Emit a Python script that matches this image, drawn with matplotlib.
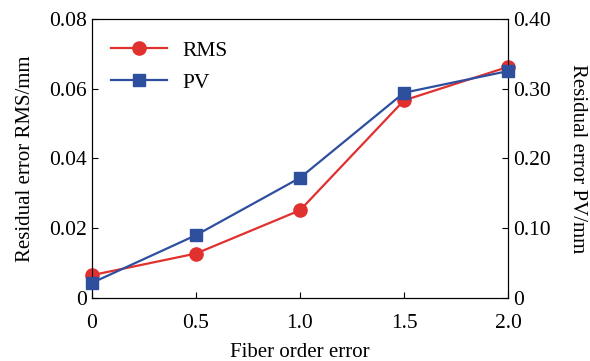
import matplotlib
matplotlib.use("Agg")
import matplotlib.pyplot as plt

plt.rcParams['font.family'] = ['Liberation Serif', 'DejaVu Serif']
plt.rcParams['mathtext.fontset'] = 'stix'

# data
fiber_error = [0, 0.5, 1.0, 1.5, 2.0]
rms = [0.0065, 0.0127, 0.0251, 0.0566, 0.0662]
pv = [0.0215, 0.0898, 0.172, 0.294, 0.325]

left_ticks = [0, 0.02, 0.04, 0.06, 0.08]
left_labels = ['0', '0.02', '0.04', '0.06', '0.08']
right_ticks = [0, 0.10, 0.20, 0.30, 0.40]
right_labels = ['0', '0.10', '0.20', '0.30', '0.40']
x_ticks = [0, 0.5, 1.0, 1.5, 2.0]
x_labels = ['0', '0.5', '1.0', '1.5', '2.0']

red = '#E0312F'
blue = '#2E4F9E'

fig = plt.figure(figsize=(5.9, 3.61), dpi=100)
ax = fig.add_axes([0.156, 0.175, 0.705, 0.773])
ax2 = ax.twinx()

l1, = ax.plot(fiber_error, rms, '-o', color=red, lw=1.6, markersize=9.5,
              clip_on=False, zorder=3, label='RMS')
l2, = ax2.plot(fiber_error, pv, '-s', color=blue, lw=1.6, markersize=8.5,
               clip_on=False, zorder=3, label='PV')

ax.set_xlim(0, 2.0)
ax.set_ylim(0, 0.08)
ax2.set_ylim(0, 0.40)
ax.set_xticks(x_ticks)
ax.set_xticklabels(x_labels)
ax.set_yticks(left_ticks)
ax.set_yticklabels(left_labels)
ax2.set_yticks(right_ticks)
ax2.set_yticklabels(right_labels)

for a in (ax, ax2):
    a.tick_params(direction='in', labelsize=15.5, length=4, width=0.8)
    for s in a.spines.values():
        s.set_linewidth(0.8)
ax.tick_params(axis='x', pad=12)

ax.set_xlabel('Fiber order error', fontsize=15, labelpad=7)
ax.set_ylabel('Residual error RMS/mm', fontsize=15, labelpad=10)
ax2.set_ylabel('Residual error PV/mm', fontsize=15, rotation=270, labelpad=26)

ax.legend([l1, l2], ['RMS', 'PV'], loc='upper left', frameon=False,
          fontsize=15.5, handlelength=2.6, bbox_to_anchor=(0.0, 0.99),
          labelspacing=0.55, handletextpad=0.7)

fig.savefig('out.png', dpi=100)
